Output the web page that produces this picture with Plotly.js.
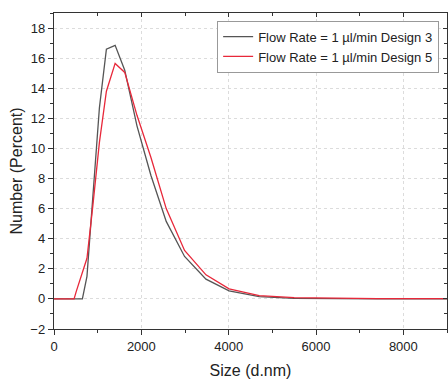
<!DOCTYPE html>
<html>
<head>
<meta charset="utf-8">
<script src="https://cdn.plot.ly/plotly-3.0.1.min.js"></script>
<style>html,body{margin:0;padding:0;background:#fff;}#chart{width:448px;height:386px;}</style>
</head>
<body>
<div id="chart"></div>
<script>
// Size bins (d.nm)
const sizes = [0, 440, 510, 590, 650, 755, 890, 1040, 1200, 1400, 1620, 1900, 2220, 2570, 2990, 3480, 4010, 4700, 5500, 6400, 7400, 8600, 9000];
// Number (%) — Flow Rate = 1 µl/min Design 3
const design3 = [0, 0, 0, 0, 0, 1.5, 7.0, 12.7, 16.6, 16.85, 15.2, 11.5, 8.2, 5.15, 2.82, 1.31, 0.53, 0.15, 0.04, 0.01, 0, 0, 0];
// Number (%) — Flow Rate = 1 µl/min Design 5
const design5x = [0, 460, 510, 590, 650, 755, 890, 1040, 1200, 1400, 1620, 1900, 2220, 2570, 2990, 3480, 4010, 4700, 5500, 6400, 7400, 8600, 9000];
const design5 = [0, 0, 0.5, 1.2, 1.7, 2.7, 6.2, 10.4, 13.8, 15.65, 15.05, 12.2, 9.4, 6.0, 3.22, 1.6, 0.67, 0.22, 0.08, 0.03, 0.02, 0.02, 0.02];
const seriesNames = ["Flow Rate = 1 \u00b5l/min Design 3", "Flow Rate = 1 \u00b5l/min Design 5"];
const xTitle = "Size (d.nm)";
const yTitle = "Number (Percent)";

const FONT = "Liberation Sans, Arial, sans-serif";
const traces = [
  {x: sizes, y: design3, type: 'scatter', mode: 'lines', name: seriesNames[0],
   line: {color: '#555555', width: 1.3}},
  {x: design5x, y: design5, type: 'scatter', mode: 'lines', name: seriesNames[1],
   line: {color: '#e8283a', width: 1.3}},
  {x: [], y: [], xaxis: 'x2', yaxis: 'y2', showlegend: false, hoverinfo: 'skip'}
];

const axCommon = {
  showline: true, linecolor: '#333', linewidth: 1.2,
  zeroline: false, tickfont: {family: FONT, size: 13, color: '#222'}
};

const layout = {
  width: 448, height: 386,
  margin: {l: 54, r: 1, t: 13, b: 57},
  paper_bgcolor: '#fff', plot_bgcolor: '#fff',
  font: {family: FONT, color: '#222'},
  showlegend: true,
  legend: {x: 0.98, y: 0.976, xanchor: 'right', yanchor: 'top',
    bgcolor: '#fff', bordercolor: '#999', borderwidth: 1,
    font: {family: FONT, size: 13, color: '#222'}},
  xaxis: Object.assign({}, axCommon, {
    range: [0, 9000], dtick: 2000, tick0: 0,
    ticks: 'outside', ticklen: 5, tickcolor: '#333',
    minor: {dtick: 1000, ticks: 'outside', ticklen: 3, tickcolor: '#333', showgrid: false},
    showgrid: true, gridcolor: '#dcdcdc', griddash: 'dot', gridwidth: 1,
    title: {text: xTitle, font: {family: FONT, size: 16, color: '#222'}, standoff: 12}
  }),
  yaxis: Object.assign({}, axCommon, {
    range: [-2, 19], dtick: 2, tick0: 0,
    ticks: 'outside', ticklen: 5, tickcolor: '#333',
    minor: {dtick: 1, ticks: 'outside', ticklen: 3, tickcolor: '#333', showgrid: false},
    showgrid: true, gridcolor: '#dcdcdc', griddash: 'dot', gridwidth: 1,
    title: {text: yTitle, font: {family: FONT, size: 16, color: '#222'}, standoff: 3}
  }),
  xaxis2: {overlaying: 'x', side: 'top', anchor: 'y2', range: [0, 9000], dtick: 2000, tick0: 0,
    showline: true, linecolor: '#333', linewidth: 1.2, zeroline: false, showgrid: false,
    ticks: 'inside', ticklen: 4, tickcolor: '#333', showticklabels: false,
    minor: {dtick: 1000, ticks: 'inside', ticklen: 3, tickcolor: '#333'}},
  yaxis2: {overlaying: 'y', side: 'right', anchor: 'x2', range: [-2, 19], dtick: 2, tick0: 0,
    showline: true, linecolor: '#333', linewidth: 1.2, zeroline: false, showgrid: false,
    ticks: 'inside', ticklen: 4, tickcolor: '#333', showticklabels: false,
    minor: {dtick: 1, ticks: 'inside', ticklen: 3, tickcolor: '#333'}}
};

Plotly.newPlot('chart', traces, layout, {staticPlot: true, displayModeBar: false});
</script>
</body>
</html>
